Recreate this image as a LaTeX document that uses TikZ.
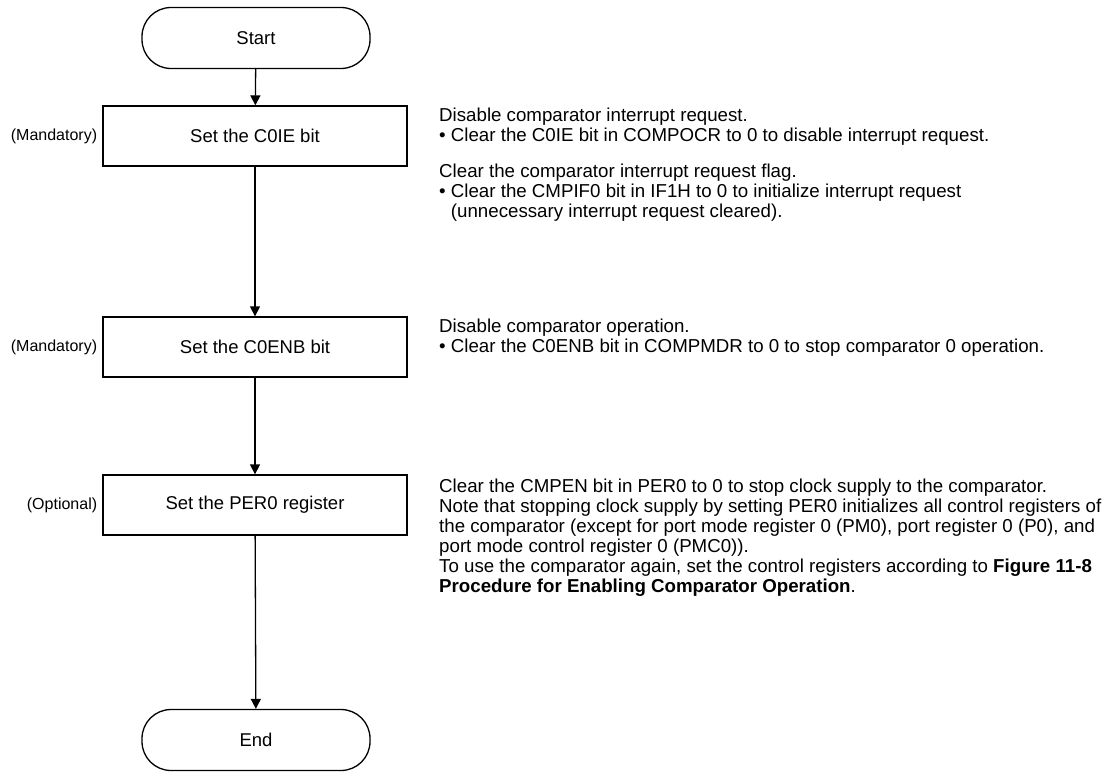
\documentclass[tikz,border=0pt]{standalone}
\usepackage{fontspec}
\setmainfont{Liberation Sans}
\usetikzlibrary{arrows.meta,positioning}

\newcommand{\bul}{\textbullet\ }
\newcommand{\bulgap}{\phantom{\textbullet\ }}

\begin{document}
\begin{tikzpicture}[x=1pt,y=-1pt,
  terminal/.style={draw, line width=1.3pt, rounded corners=29pt, minimum width=228pt, minimum height=61pt, font=\fontsize{18.5}{21}\selectfont},
  stepbox/.style={draw, line width=1.3pt, minimum width=304pt, minimum height=60pt, font=\fontsize{18.5}{21}\selectfont},
  tag/.style={inner sep=0pt, font=\fontsize{16}{19}\selectfont},
  note/.style={anchor=north west, align=left, inner sep=0pt, font=\fontsize{18.7}{20}\selectfont},
  flow/.style={-{Triangle[length=10pt,width=10pt]}, line width=1.3pt}]
\useasboundingbox (0,0) rectangle (1115,771);
\node[terminal] (start) at (256,38) {Start};
\node[stepbox] (ie) at (255,136) {Set the C0IE bit};
\node[stepbox] (enb) at (255,347) {Set the C0ENB bit};
\node[stepbox] (per) at (255,505) {Set the PER0 register};
\node[terminal] (stop) at (256,740) {End};
\node[tag, left=5pt of ie] (ietag) {(Mandatory)};
\node[tag, left=5pt of enb] (enbtag) {(Mandatory)};
\node[tag, left=5pt of per] (pertag) {(Optional)};
\draw[flow] (start) -- (ie);
\draw[flow] (ie) -- (enb);
\draw[flow] (enb) -- (per);
\draw[flow] (per) -- (stop);
% notes beside the steps
\node[note] (ienote) at (439,108) {Disable comparator interrupt request.\\
  \bul Clear the C0IE bit in COMPOCR to 0 to disable interrupt request.\\[16pt]
  Clear the comparator interrupt request flag.\\
  \bul Clear the CMPIF0 bit in IF1H to 0 to initialize interrupt request\\
  \bulgap(unnecessary interrupt request cleared).};
\node[note] (enbnote) at (439,319) {Disable comparator operation.\\
  \bul Clear the C0ENB bit in COMPMDR to 0 to stop comparator 0 operation.};
\node[note] (pernote) at (439,479) {Clear the CMPEN bit in PER0 to 0 to stop clock supply to the comparator.\\
  Note that stopping clock supply by setting PER0 initializes all control registers of\\
  the comparator (except for port mode register 0 (PM0), port register 0 (P0), and\\
  port mode control register 0 (PMC0)).\\
  To use the comparator again, set the control registers according to \textbf{Figure 11-8}\\
  \textbf{Procedure for Enabling Comparator Operation}.};
\end{tikzpicture}
\end{document}
